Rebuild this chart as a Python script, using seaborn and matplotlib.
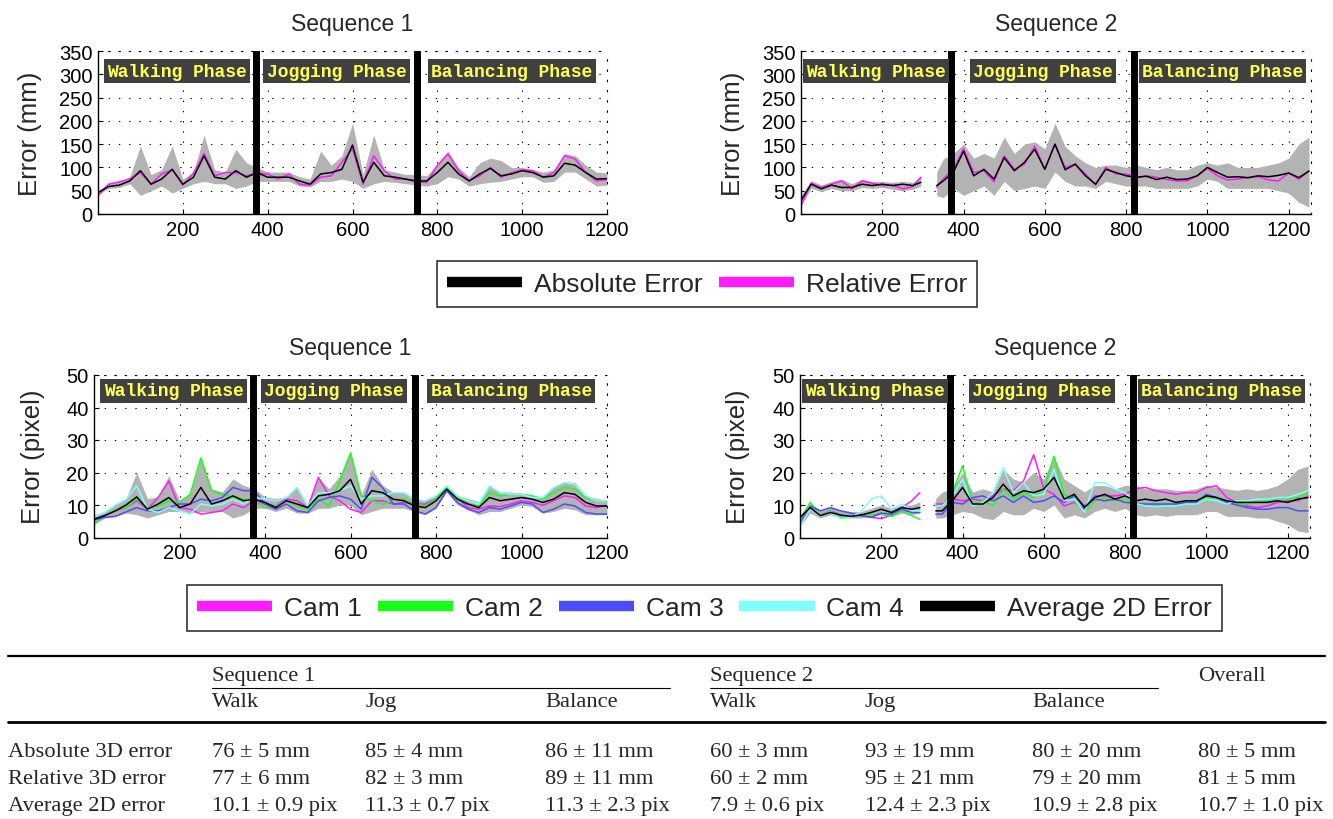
import numpy as np
import pandas as pd
import matplotlib
matplotlib.use('Agg')
import matplotlib.pyplot as plt
import matplotlib.transforms as mtransforms
from matplotlib.lines import Line2D
import seaborn as sns

sns.set_theme(style='white')
plt.rcParams['font.family'] = ['Liberation Sans', 'DejaVu Sans']

# ------------------------------------------------------------------ data
frames1 = list(range(0, 1201, 25))
frames2 = [0, 25, 50, 75, 100, 125, 150, 175, 200, 225, 250, 275, 295,
           334, 350] + list(range(375, 1251, 25))
seq2_walk_end = 295          # sequence 2 has no data between walking and jogging

seq1_bounds = [372, 752]
seq2_bounds = [370, 820]
seq1_xmax = 1200
seq2_xmax = 1255
phase_names = ['Walking Phase', 'Jogging Phase', 'Balancing Phase']

# 3D error, sequence 1 (mm)
seq1_abs = [46, 59, 62, 71, 93, 64, 75, 96, 64, 79,
            125, 79, 75, 93, 79, 89, 79, 79, 79, 71,
            64, 86, 89, 96, 148, 68, 111, 82, 79, 75,
            71, 71, 89, 111, 86, 71, 86, 98, 82, 86,
            93, 89, 79, 82, 109, 105, 89, 75, 76]
seq1_rel = [39, 64, 69, 75, 89, 64, 86, 95, 62, 88,
            130, 82, 89, 89, 82, 88, 86, 75, 86, 64,
            62, 79, 82, 111, 140, 64, 125, 93, 75, 75,
            69, 68, 104, 129, 93, 71, 82, 100, 79, 89,
            95, 93, 79, 89, 125, 118, 89, 71, 74]
seq1_abs_hi = [50, 65, 70, 80, 146, 85, 95, 146, 75, 90,
               169, 95, 90, 139, 110, 100, 90, 90, 90, 80,
               75, 135, 105, 125, 195, 85, 170, 95, 90, 85,
               85, 82, 108, 135, 100, 80, 110, 120, 115, 100,
               100, 95, 90, 95, 130, 125, 105, 90, 88]
seq1_abs_lo = [42, 55, 57, 65, 40, 50, 60, 45, 55, 65,
               70, 65, 65, 55, 60, 70, 70, 70, 70, 60,
               58, 70, 70, 75, 70, 55, 65, 70, 68, 65,
               62, 60, 65, 80, 75, 60, 65, 68, 70, 75,
               80, 80, 68, 70, 90, 90, 75, 60, 62]

# 3D error, sequence 2 (mm)
seq2_abs = [29, 64, 54, 62, 57, 57, 64, 61, 64, 61, 64, 61, 68,
            61, 71, 90, 135, 82, 96, 75, 121, 93, 111,
            139, 96, 150, 95, 107, 82, 64, 96, 89, 82,
            79, 81, 74, 79, 74, 75, 82, 100, 89, 79,
            80, 78, 82, 80, 83, 88, 78, 92]
seq2_rel = [18, 66, 57, 64, 71, 54, 71, 66, 61, 62, 54, 59, 79,
            57, 75, 95, 140, 89, 93, 69, 125, 96, 107,
            146, 96, 150, 100, 107, 86, 62, 100, 86, 86,
            78, 82, 79, 74, 71, 71, 82, 98, 82, 73,
            75, 78, 80, 73, 71, 88, 75, 93]
seq2_abs_hi = [40, 72, 62, 70, 75, 65, 75, 70, 70, 68, 70, 68, 80,
               90, 118, 130, 150, 120, 130, 120, 165, 130, 150,
               155, 140, 195, 145, 125, 110, 100, 105, 105, 100,
               105, 100, 95, 100, 95, 95, 105, 110, 105, 110,
               100, 100, 100, 105, 110, 120, 150, 165]
seq2_abs_lo = [18, 55, 48, 55, 50, 50, 57, 55, 57, 53, 50, 53, 60,
               40, 35, 55, 40, 50, 60, 40, 70, 50, 55,
               60, 55, 90, 70, 60, 60, 55, 70, 65, 60,
               60, 60, 55, 55, 55, 55, 60, 75, 70, 55,
               55, 55, 55, 55, 50, 45, 25, 15]

# 2D error, sequence 1 (pixel)
seq1_avg2d = [5.6, 6.7, 8.2, 10, 12.5, 8.7, 10.3, 12.3, 9.2, 10.3,
              15.4, 10.3, 11.3, 12.8, 11.3, 11.8, 10.8, 9.2, 11.3, 10.3,
              9.2, 12.8, 13.3, 14.4, 17.9, 10.3, 14.4, 13.8, 11.8, 11.3,
              9.7, 9.2, 11.3, 14.9, 11.8, 10.3, 9.2, 12.3, 11.3, 11.8,
              12.3, 11.8, 10.8, 11.8, 13.8, 13.3, 10.8, 9.7, 9.7]
seq1_cam1 = [5.8, 6.9, 8.2, 9.2, 11.3, 8.7, 12.3, 17.4, 9.2, 8.7,
             7.2, 7.7, 8.2, 10.3, 9.2, 11.3, 10.3, 9.7, 11.8, 11.3,
             9.2, 18.5, 12.8, 11.3, 8.7, 7.7, 11.3, 11.3, 10.3, 10.8,
             10.3, 10.3, 11.8, 15.4, 12.3, 9.2, 8.7, 9.7, 9.5, 10.3,
             11.3, 10.8, 9.9, 11.3, 12.8, 12.3, 9.7, 9.2, 9.9]
seq1_cam2 = [4.1, 6.7, 8.5, 9.2, 11.8, 9.2, 9.7, 11.3, 10.8, 13.3,
             24.5, 14.4, 13.3, 12.3, 11.8, 11.3, 9.2, 9.7, 11.3, 9.7,
             8.7, 11.8, 9.7, 17.4, 26.0, 12.8, 11.3, 10.3, 11.3, 11.8,
             10.3, 9.7, 11.8, 15.4, 12.3, 10.3, 9.7, 13.8, 12.8, 13.3,
             13.3, 12.8, 11.8, 13.8, 15.4, 14.9, 12.3, 11.3, 11.3]
seq1_cam3 = [5.4, 6.2, 6.5, 7.9, 9.2, 8.2, 8.2, 9.2, 10.3, 10.3,
             11.8, 11.3, 12.3, 15.4, 14.4, 14.4, 10.3, 8.7, 10.3, 8.2,
             7.7, 11.3, 12.3, 12.8, 11.8, 8.7, 18.5, 15.4, 10.3, 10.3,
             8.2, 7.2, 9.2, 14.4, 10.8, 8.7, 7.7, 9.2, 8.7, 9.7,
             10.8, 10.3, 7.7, 8.7, 10.3, 9.7, 7.7, 7.2, 7.2]
seq1_cam4 = [6.2, 7.7, 10, 11.8, 15.9, 8.7, 7.7, 9.2, 8.2, 7.2,
             10.3, 9.7, 10.3, 11.8, 10.3, 12.3, 11.8, 11.3, 12.3, 15.4,
             9.7, 13.8, 13.8, 14.4, 15.9, 11.8, 12.8, 12.8, 13.8, 13.8,
             11.8, 11.3, 12.8, 15.9, 12.8, 11.3, 10.3, 15.9, 13.8, 13.3,
             13.3, 12.3, 12.3, 15.4, 16.9, 16.4, 12.8, 11.3, 11.3]
seq1_2d_hi = [7, 8, 10, 12, 20, 12, 12.5, 19, 11.5, 13.5,
              24.5, 15, 14, 18, 16, 15, 12.5, 12, 12.5, 15.5,
              10, 18.5, 15, 19, 26.5, 13, 21, 16, 14, 14,
              12, 11.5, 13, 16, 13, 12, 11, 16, 14, 14,
              13.5, 13, 12.5, 15.5, 17, 17, 13, 12, 11.5]
seq1_2d_lo = [4, 6, 6.5, 7.5, 7, 6, 7, 8, 8, 7.5,
              8, 8, 8, 6, 7, 9, 9, 8, 9, 7.5,
              7.5, 9, 9, 10, 10, 7, 8, 9, 9, 9,
              8, 7, 9, 14, 10, 8.5, 7, 8, 8, 9,
              10, 9.5, 7.5, 8, 9, 8.5, 7, 7, 7]

# 2D error, sequence 2 (pixel)
seq2_avg2d = [6.2, 9.2, 6.7, 7.7, 6.9, 6.5, 6.9, 7.7, 8.7, 7.7, 9.2, 8.7, 9.2,
              8.2, 8.2, 11.3, 15.4, 10.3, 10.3, 12.3, 16.4, 12.8, 14.4,
              13.8, 14.9, 18.5, 11.8, 13.3, 9.2, 12.3, 13.3, 11.8, 12.8,
              11.3, 11.8, 11.3, 11.8, 10.8, 11.3, 11.3, 12.8, 12.3, 11.3,
              10.8, 10.8, 10.8, 10.8, 11.3, 10.8, 11.8, 12.3]
seq2_cam1 = [5.6, 8.7, 6.9, 8.2, 6.9, 6.5, 7.2, 6.2, 5.8, 6.9, 9.2, 11.3, 13.8,
             10.3, 10.3, 11.8, 11.3, 11.8, 11.3, 12.8, 14.9, 14.4, 17.4,
             25.5, 14.9, 13.3, 9.7, 10.8, 8.7, 12.8, 12.8, 12.8, 13.3,
             15.0, 15.4, 14.4, 13.8, 13.3, 13.8, 13.8, 15.4, 15.9, 12.3,
             10.8, 9.7, 9.2, 9.7, 10.8, 11.3, 11.3, 12.8]
seq2_cam2 = [5.6, 10.8, 6.5, 8.2, 6.2, 6.5, 6.9, 6.9, 7.2, 6.5, 8.2, 6.7, 5.6,
             9.7, 9.7, 13.8, 22.0, 10.3, 11.3, 9.7, 14.9, 11.8, 13.8,
             12.3, 14.9, 25.0, 13.3, 11.3, 7.7, 11.3, 12.3, 11.3, 11.8,
             10.5, 10.3, 9.7, 10.3, 9.7, 10.8, 10.8, 12.3, 11.3, 10.8,
             10.3, 10.3, 10.8, 11.3, 12.3, 11.8, 12.3, 13.8]
seq2_cam3 = [4.1, 9.7, 8.2, 9.2, 8.2, 7.5, 6.7, 6.2, 7.5, 7.2, 8.7, 7.7, 7.7,
             7.2, 7.2, 10.8, 10.3, 12.3, 12.8, 11.3, 12.8, 10.8, 12.8,
             10.8, 11.3, 12.8, 10.8, 12.8, 9.7, 11.8, 11.3, 11.8, 10.8,
             10.5, 10.3, 10.3, 10.3, 10.3, 10.8, 10.8, 13.3, 12.3, 10.8,
             10.0, 9.2, 8.7, 8.7, 9.2, 9.2, 8.2, 8.2]
seq2_cam4 = [3.6, 8.7, 6.5, 7.7, 5.8, 6.2, 7.9, 11.8, 12.8, 8.7, 10.3, 8.2, 8.2,
             9.7, 9.7, 12.8, 17.9, 9.7, 10.8, 13.8, 21.5, 13.8, 16.9,
             12.8, 13.3, 21.0, 11.3, 11.8, 7.7, 16.9, 16.9, 14.9, 13.8,
             10.5, 9.7, 9.5, 9.7, 9.7, 10.3, 10.3, 11.8, 11.3, 10.3,
             11.3, 11.3, 11.8, 11.8, 12.3, 12.3, 13.3, 14.4]
seq2_2d_hi = [6, 10.5, 8.5, 9.5, 8.5, 8, 8, 9, 10, 9, 10, 10, 11,
              12, 14, 15, 20, 14, 15, 14, 21, 18, 17,
              20, 18, 25, 18, 16, 14, 16, 16, 15, 16,
              16, 15, 15, 15, 14.5, 14.5, 15, 16, 15.5, 15,
              14.5, 15, 14.5, 15, 16, 18, 21, 22]
seq2_2d_lo = [3.5, 7.5, 6, 7, 6, 6, 6, 6.5, 7, 6.5, 7.5, 7, 7.5,
              6, 6, 7, 8, 7.5, 6, 5.5, 8, 7, 7,
              9, 8, 10, 6, 7, 6, 8, 9, 8, 9,
              7, 6.5, 7, 6.5, 7, 7, 7, 8, 8, 6.5,
              6.5, 6.5, 6, 6, 5, 4, 2, 1.5]

# table
table_rows = ['Absolute 3D error', 'Relative 3D error', 'Average 2D error']
table_groups = ['Sequence 1', 'Sequence 2', 'Overall']
table_phases = ['Walk', 'Jog', 'Balance']
table_vals = [
    ['76 ± 5 mm', '85 ± 4 mm', '86 ± 11 mm', '60 ± 3 mm', '93 ± 19 mm', '80 ± 20 mm', '80 ± 5 mm'],
    ['77 ± 6 mm', '82 ± 3 mm', '89 ± 11 mm', '60 ± 2 mm', '95 ± 21 mm', '79 ± 20 mm', '81 ± 5 mm'],
    ['10.1 ± 0.9 pix', '11.3 ± 0.7 pix', '11.3 ± 2.3 pix', '7.9 ± 0.6 pix', '12.4 ± 2.3 pix',
     '10.9 ± 2.8 pix', '10.7 ± 1.0 pix'],
]

# ------------------------------------------------------------------ style
C_ABS = '#000000'
C_REL = '#ff1aff'
C_CAM = ['#ff1aff', '#1aff1a', '#4d4dff', '#80ffff']
C_BAND = '#b3b3b3'
GRID_LS = (0, (1.2, 8))

W, H = 1333, 820
fig = plt.figure(figsize=(W / 100, H / 100), dpi=100)


def rect(l, r, t, b):
    return [l / W, 1 - b / H, (r - l) / W, (b - t) / H]


ax1 = fig.add_axes(rect(98, 607, 52, 215))
ax2 = fig.add_axes(rect(801, 1311, 52, 215))
ax3 = fig.add_axes(rect(94, 607, 376, 538.5))
ax4 = fig.add_axes(rect(800, 1310, 376, 538.5))


def segments(frames, walk_end=None):
    return [0 if (walk_end is None or f <= walk_end) else 1 for f in frames]


def draw_band(ax, frames, lo, hi, seg):
    fr = np.array(frames)
    lo = np.array(lo, float)
    hi = np.array(hi, float)
    sg = np.array(seg)
    for s in np.unique(sg):
        m = sg == s
        ax.fill_between(fr[m], lo[m], hi[m], color=C_BAND, lw=0, zorder=1)


def draw_lines(ax, frames, series, colors, seg):
    rows = []
    for name, vals in series.items():
        for f, v, s in zip(frames, vals, seg):
            rows.append((f, v, name, s))
    df = pd.DataFrame(rows, columns=['frame', 'value', 'series', 'seg'])
    sns.lineplot(data=df, x='frame', y='value', hue='series', units='seg',
                 estimator=None, hue_order=list(series), palette=colors,
                 linewidth=1.1, legend=False, sort=False, ax=ax, zorder=2)


def style(ax, xmax, ymax, ystep, ylabel, title, bounds, label_y, ylab_x):
    ax.set_xlim(0, xmax)
    ax.set_ylim(0, ymax)
    ax.set_xticks([200, 400, 600, 800, 1000, 1200])
    ax.set_yticks(np.arange(0, ymax + 1, ystep))
    ax.grid(True, color='black', linestyle=GRID_LS, linewidth=0.8)
    ax.set_axisbelow(True)
    ax.tick_params(direction='in', length=3.5, width=0.8, labelsize=14.5,
                   colors='black', pad=4, bottom=True, left=True)
    for s in ['left', 'bottom']:
        ax.spines[s].set_color('black')
        ax.spines[s].set_linewidth(1.0)
    for s in ['top', 'right']:
        ax.spines[s].set_color('black')
        ax.spines[s].set_linestyle(GRID_LS)
        ax.spines[s].set_linewidth(0.8)
    ax.set_xlabel('')
    ax.set_ylabel(ylabel, fontsize=18.5)
    ax.yaxis.set_label_coords(ylab_x, 0.5)
    ax.set_title(title, fontsize=16.5, pad=15)
    for b in bounds:
        ax.axvline(b, color='black', lw=5, zorder=6)
    edges = [0] + list(bounds) + [xmax]
    trans = mtransforms.blended_transform_factory(ax.transData, ax.transAxes)
    for i, name in enumerate(phase_names):
        ax.text((edges[i] + edges[i + 1]) / 2, label_y, name, transform=trans,
                ha='center', va='center', fontsize=13, color='#ffff55',
                fontweight='bold',
                family=['Liberation Mono', 'DejaVu Sans Mono'], zorder=7,
                bbox=dict(boxstyle='square,pad=0.18', fc='#404040', ec='none'))


seg1 = segments(frames1)
seg2 = segments(frames2, seq2_walk_end)

# top row: 3D error
draw_band(ax1, frames1, seq1_abs_lo, seq1_abs_hi, seg1)
draw_lines(ax1, frames1, {'Relative Error': seq1_rel, 'Absolute Error': seq1_abs},
           [C_REL, C_ABS], seg1)
style(ax1, seq1_xmax, 350, 50, 'Error (mm)', 'Sequence 1', seq1_bounds, 0.877, -0.11)

draw_band(ax2, frames2, seq2_abs_lo, seq2_abs_hi, seg2)
draw_lines(ax2, frames2, {'Relative Error': seq2_rel, 'Absolute Error': seq2_abs},
           [C_REL, C_ABS], seg2)
style(ax2, seq2_xmax, 350, 50, 'Error (mm)', 'Sequence 2', seq2_bounds, 0.877, -0.11)

# bottom row: 2D error
draw_band(ax3, frames1, seq1_2d_lo, seq1_2d_hi, seg1)
draw_lines(ax3, frames1, {'Cam 1': seq1_cam1, 'Cam 2': seq1_cam2, 'Cam 3': seq1_cam3,
                          'Cam 4': seq1_cam4, 'Average 2D Error': seq1_avg2d},
           C_CAM + [C_ABS], seg1)
style(ax3, seq1_xmax, 50, 10, 'Error (pixel)', 'Sequence 1', seq1_bounds, 0.902, -0.095)

draw_band(ax4, frames2, seq2_2d_lo, seq2_2d_hi, seg2)
draw_lines(ax4, frames2, {'Cam 1': seq2_cam1, 'Cam 2': seq2_cam2, 'Cam 3': seq2_cam3,
                          'Cam 4': seq2_cam4, 'Average 2D Error': seq2_avg2d},
           C_CAM + [C_ABS], seg2)
style(ax4, seq2_xmax, 50, 10, 'Error (pixel)', 'Sequence 2', seq2_bounds, 0.902, -0.098)

# legends
def make_legend(labels, colors, center):
    handles = [Line2D([], [], color=c, lw=7.5, solid_capstyle='butt') for c in colors]
    leg = fig.legend(handles, labels, loc='center', bbox_to_anchor=center,
                     ncol=len(labels), fontsize=19, frameon=True, fancybox=False,
                     edgecolor='black', handlelength=2.85, handletextpad=0.45,
                     columnspacing=0.6, borderpad=0.4, borderaxespad=0)
    leg.get_frame().set_linewidth(1.2)
    return leg


make_legend(['Absolute Error', 'Relative Error'], [C_ABS, C_REL], (707 / W, 1 - 285 / H))
make_legend(['Cam 1', 'Cam 2', 'Cam 3', 'Cam 4', 'Average 2D Error'], C_CAM + [C_ABS],
            (704.5 / W, 1 - 609 / H))

# table
serif = ['Liberation Serif', 'DejaVu Serif']
tfs = 16.2
col_x = [212, 365, 545, 710, 865, 1032, 1198]
row_y = [753, 780, 807]


def ftxt(x, y, s):
    fig.text(x / W, 1 - y / H, s, ha='left', va='center', fontsize=tfs, family=serif)


def hline(x0, x1, y, lw):
    fig.add_artist(Line2D([x0 / W, x1 / W], [1 - y / H, 1 - y / H], color='black', lw=lw,
                          transform=fig.transFigure))


hline(8, 1325, 657, 1.6)
hline(8, 1325, 723, 2.0)
hline(212, 670, 689, 0.8)
hline(710, 1158, 689, 0.8)
ftxt(col_x[0], 677, table_groups[0])
ftxt(col_x[3], 677, table_groups[1])
ftxt(col_x[6], 677, table_groups[2])
for k in range(2):
    for j, p in enumerate(table_phases):
        ftxt(col_x[3 * k + j], 703, p)
for i, r in enumerate(table_rows):
    ftxt(8, row_y[i], r)
    for j, v in enumerate(table_vals[i]):
        ftxt(col_x[j], row_y[i], v)

fig.savefig('out.png', dpi=100)
